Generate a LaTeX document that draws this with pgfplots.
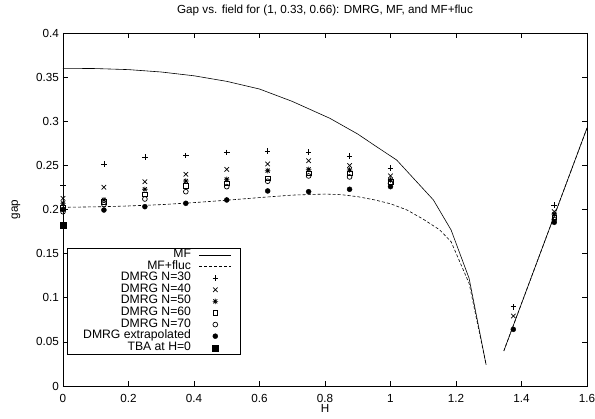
\documentclass[border=0pt]{standalone}
\usepackage{fontspec}
\setmainfont{Liberation Sans}
\usepackage{pgfplots}
\pgfplotsset{compat=1.18}
\pgfdeclareplotmark{gpstar}{%
  \pgfpathmoveto{\pgfqpoint{-\pgfplotmarksize}{0pt}}\pgfpathlineto{\pgfqpoint{\pgfplotmarksize}{0pt}}%
  \pgfpathmoveto{\pgfqpoint{0pt}{-\pgfplotmarksize}}\pgfpathlineto{\pgfqpoint{0pt}{\pgfplotmarksize}}%
  \pgfpathmoveto{\pgfqpoint{-0.75\pgfplotmarksize}{-0.75\pgfplotmarksize}}\pgfpathlineto{\pgfqpoint{0.75\pgfplotmarksize}{0.75\pgfplotmarksize}}%
  \pgfpathmoveto{\pgfqpoint{-0.75\pgfplotmarksize}{0.75\pgfplotmarksize}}\pgfpathlineto{\pgfqpoint{0.75\pgfplotmarksize}{-0.75\pgfplotmarksize}}%
  \pgfusepathqstroke}
\pgfplotsset{
  mylegend/.style={legend image code/.code={\draw[mark repeat=2,mark phase=2,##1] plot coordinates {(0pt,0pt) (16pt,0pt) (32pt,0pt)};}},
}
\newcommand\myfont{\fontsize{11.7}{13}\selectfont}
\newcommand\legfont{\fontsize{12.2}{13}\selectfont}
\begin{document}
\myfont
\begin{tikzpicture}[font=\myfont]
\useasboundingbox (-63pt,-33pt) rectangle (532pt,386pt);
\begin{axis}[
  scale only axis, width=524pt, height=353pt,
  at={(0,0)}, anchor=south west,
  xmin=0, xmax=1.6, ymin=0, ymax=0.4,
  xtick={0,0.2,0.4,0.6,0.8,1,1.2,1.4,1.6},
  ytick={0,0.05,0.1,0.15,0.2,0.25,0.3,0.35,0.4},
  tick align=inside, major tick length=5pt,
  tick style={black, line width=0.5pt},
  axis line style={line width=0.8pt},
  /pgf/number format/assume math mode=true,
  ticklabel style={font=\myfont},
  yticklabel style={/pgf/number format/fixed, /pgf/number format/precision=2},
  scaled y ticks=false, scaled x ticks=false,
  xticklabel style={yshift=-4pt},
  title={Gap vs. field for (1, 0.33, 0.66): DMRG, MF, and MF+fluc},
  title style={at={(axis description cs:0.5,1)}, anchor=south, yshift=7pt, font=\myfont},
  xlabel={H}, ylabel={gap},
  label style={font=\myfont},
  xlabel style={at={(axis description cs:0.5,-0.0765)}, anchor=base, inner sep=0pt},
  ylabel style={at={(axis description cs:-0.0897,0.5)}, anchor=center},
  legend style={at={(axis cs:0.0122,0.1564)}, anchor=north west, draw=black,
    font=\legfont,
    inner xsep=9pt, inner ysep=1pt, column sep=8pt,
    nodes={inner sep=0pt, text height=8.3pt, text depth=3.3pt, font=\legfont}},
  legend plot pos=right, legend cell align=right,
]
\addplot[black, line width=0.6pt, mylegend] coordinates {
(0,0.360)(0.1,0.3597)(0.2,0.3585)(0.3,0.3558)(0.4,0.3515)(0.5,0.3452)(0.6,0.3365)
(0.7,0.3225)(0.815,0.3033)(0.9,0.2855)(0.95,0.2730)(1.019,0.256)(1.075,0.2334)
(1.131,0.2108)(1.185,0.1768)(1.24,0.122)(1.292,0.024)};
\addlegendentry{MF}
\addplot[black, line width=0.6pt, dash pattern=on 3pt off 2pt, mylegend] coordinates {
(0,0.2025)(0.1,0.203)(0.2,0.204)(0.3,0.2055)(0.4,0.2078)(0.5,0.2105)(0.6,0.2135)
(0.7,0.2163)(0.8,0.2175)(0.85,0.2168)(0.9,0.2145)(0.95,0.211)(1.0,0.2065)(1.05,0.1995)
(1.1,0.189)(1.15,0.177)(1.185,0.1635)(1.24,0.1163)(1.292,0.024)};
\addlegendentry{MF+fluc}
\addplot[black, line width=0.6pt, forget plot] coordinates {(1.346,0.0397)(1.6,0.2923)};
\addplot[black, line width=0.6pt, dash pattern=on 3pt off 2pt, forget plot] coordinates {(1.346,0.0397)(1.6,0.2923)};
\addplot[only marks, mark=+, mark size=2.8pt, mark options={line width=0.7pt}, mylegend] coordinates {
(0,0.2277)(0.125,0.2515)(0.25,0.2595)(0.375,0.261)(0.5,0.2648)(0.625,0.2663)(0.75,0.2652)
(0.875,0.2604)(1.0,0.2467)(1.375,0.0897)(1.5,0.2051)};
\addlegendentry{DMRG N=30}
\addplot[only marks, mark=x, mark size=3.2pt, mark options={line width=0.7pt}, mylegend] coordinates {
(0,0.2127)(0.125,0.2252)(0.25,0.2315)(0.375,0.2399)(0.5,0.2455)(0.625,0.2516)(0.75,0.2553)
(0.875,0.2498)(1.0,0.238)(1.375,0.0793)(1.5,0.1975)};
\addlegendentry{DMRG N=40}
\addplot[only marks, mark=gpstar, mark size=2.7pt, mark options={line width=0.7pt}, mylegend] coordinates {
(0,0.207)(0.125,0.211)(0.25,0.2229)(0.375,0.2323)(0.5,0.2342)(0.625,0.244)(0.75,0.2455)
(0.875,0.2448)(1.0,0.2334)(1.5,0.1945)};
\addlegendentry{DMRG N=50}
\addplot[only marks, mark=square, mark size=2.4pt, mark options={line width=0.7pt}, mylegend] coordinates {
(0,0.2017)(0.125,0.2089)(0.25,0.2172)(0.375,0.227)(0.5,0.2297)(0.625,0.2354)(0.75,0.241)
(0.875,0.241)(1.0,0.2315)(1.5,0.1911)};
\addlegendentry{DMRG N=60}
\addplot[only marks, mark=o, mark size=2.4pt, mark options={line width=0.7pt}, mylegend] coordinates {
(0,0.1975)(0.125,0.2055)(0.25,0.2119)(0.375,0.2202)(0.5,0.2259)(0.625,0.232)(0.75,0.238)
(0.875,0.2369)(1.0,0.2297)(1.5,0.1885)};
\addlegendentry{DMRG N=70}
\addplot[only marks, mark=*, mark size=2.5pt, mylegend] coordinates {
(0,0.2)(0.125,0.1994)(0.25,0.2032)(0.375,0.207)(0.5,0.2108)(0.625,0.221)(0.75,0.2202)
(0.875,0.2229)(1.0,0.2259)(1.375,0.0642)(1.5,0.1855)};
\addlegendentry{\hspace*{7pt}DMRG extrapolated}
\addplot[only marks, mark=square*, mark size=3pt, mylegend] coordinates {(0,0.1817)};
\addlegendentry{TBA at H=0}
\end{axis}
\end{tikzpicture}
\end{document}
